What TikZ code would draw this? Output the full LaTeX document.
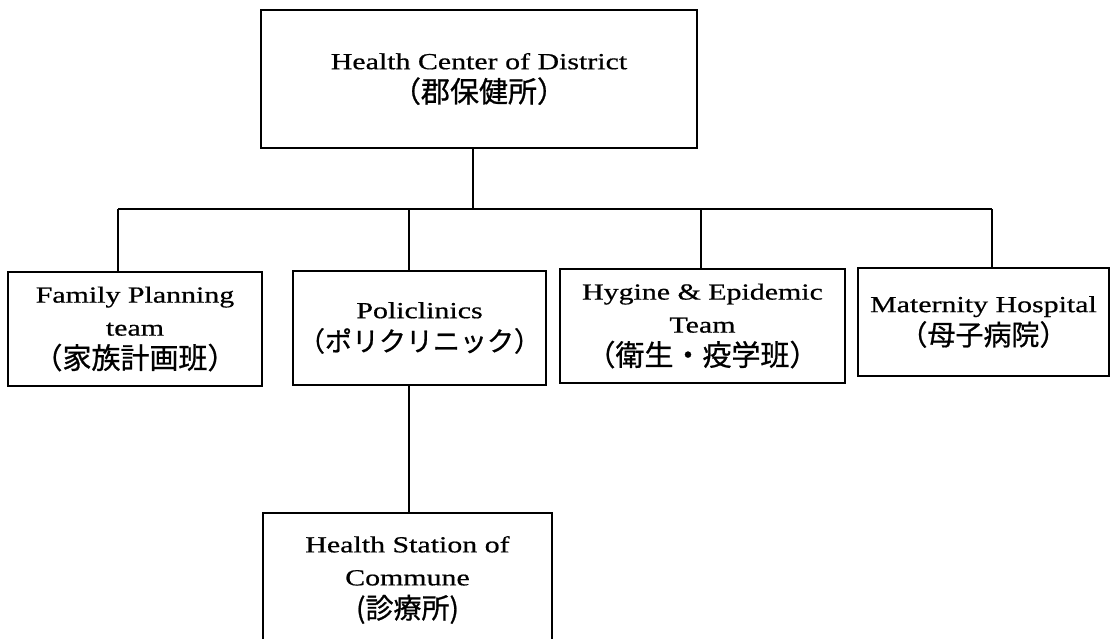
\documentclass[tikz,border=0pt]{standalone}
\usepackage{fontspec}
\setmainfont{Liberation Serif}[FakeStretch=1.3,FakeBold=0.6]
\newfontfamily\jp{Noto Sans CJK JP}[FakeBold=0.8]
\newcommand{\jpl}[2]{{\jp\fontsize{#1}{33}\selectfont #2}}
\begin{document}
\begin{tikzpicture}[x=1pt,y=-1pt,
  box/.style={draw=black,line width=1.6pt,inner sep=0pt,align=center,
    font=\fontsize{23}{33}\selectfont},
  conn/.style={line width=1.8pt}]
\clip (0,0) rectangle (1111,638);
\fill[white] (0,0) rectangle (1111,638);
\node[box,minimum width=436pt,minimum height=138pt] (top) at (479,79)
  {Health Center of District\\\jpl{29}{（郡保健所）}};
\node[box,minimum width=254pt,minimum height=114pt] (fam) at (135,329)
  {Family Planning\\team\\\jpl{29}{（家族計画班）}};
\node[box,minimum width=253pt,minimum height=114pt] (poli) at (419.5,328)
  {Policlinics\\\jpl{27}{（ポリクリニック）}};
\node[box,minimum width=285pt,minimum height=114pt] (hyg) at (702.5,326)
  {Hygine \& Epidemic\\Team\\\jpl{29}{（衛生・疫学班）}};
\node[box,minimum width=251pt,minimum height=108pt] (mat) at (983.5,322)
  {Maternity Hospital\\\jpl{28}{（母子病院）}};
\node[box,minimum width=289pt,minimum height=134pt] (sta) at (407.5,580)
  {Health Station of\\Commune\\\jpl{28}{(診療所)}};
\coordinate (j) at (473,209);
\coordinate (cf) at (118,209);
\coordinate (cp) at (409,209);
\coordinate (ch) at (701,209);
\coordinate (cm) at (992,209);
\draw[conn] (j |- top.south) -- (j);
\draw[conn] (cf) -- (cm);
\draw[conn] (cf) -- (cf |- fam.north);
\draw[conn] (cp) -- (cp |- poli.north);
\draw[conn] (ch) -- (ch |- hyg.north);
\draw[conn] (cm) -- (cm |- mat.north);
\draw[conn] (cp |- poli.south) -- (cp |- sta.north);
\end{tikzpicture}
\end{document}
